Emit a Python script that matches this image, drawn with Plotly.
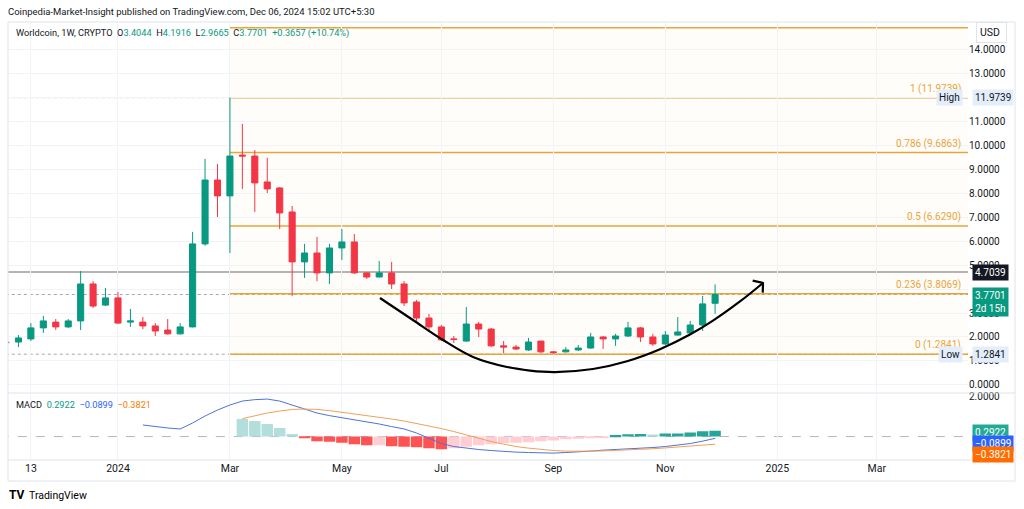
import pandas as pd
import plotly.graph_objects as go

# ---------------- data ----------------
weeks = pd.date_range("2023-10-30", "2024-12-02", freq="7D")
opens = [1.76, 1.79, 1.92, 2.38, 2.62, 2.42, 2.67, 4.21, 3.33, 3.63, 2.62, 2.62, 2.46, 2.29, 2.13,
         2.42, 5.88, 8.54, 7.88, 9.58, 9.54, 8.46, 8.21, 7.21, 5.13, 5.50, 4.67, 5.71, 5.96, 4.67,
         4.50, 4.67, 4.21, 3.46, 2.79, 2.42, 1.92, 1.83, 2.54, 2.33, 1.63, 1.58, 1.46, 1.83, 1.38,
         1.38, 1.46, 1.54, 2.00, 1.92, 2.04, 2.38, 2.00, 1.71, 2.08, 2.17, 2.50, 3.4044]
highs = [1.80, 2.08, 2.58, 2.88, 2.75, 2.75, 4.75, 4.33, 4.04, 3.88, 3.17, 2.83, 2.58, 2.75, 2.58,
         6.38, 9.42, 9.21, 11.9739, 10.88, 9.79, 9.46, 8.25, 7.46, 5.88, 6.17, 5.88, 6.50, 6.29, 4.70,
         5.17, 5.13, 4.33, 3.54, 2.96, 2.50, 2.04, 3.25, 2.63, 2.38, 1.83, 1.67, 1.96, 1.83, 1.42,
         1.58, 1.67, 2.17, 2.04, 2.13, 2.63, 2.42, 2.13, 2.25, 2.83, 2.67, 3.71, 4.1916]
lows = [1.72, 1.58, 1.83, 2.17, 2.29, 2.38, 2.29, 3.21, 3.29, 2.55, 2.42, 2.33, 2.04, 2.10, 2.10,
        2.40, 5.80, 7.00, 5.50, 8.17, 7.21, 8.00, 6.50, 3.71, 4.46, 4.33, 4.21, 5.21, 4.63, 4.42,
        4.48, 4.00, 3.29, 2.67, 2.29, 1.83, 1.75, 1.80, 2.00, 1.58, 1.33, 1.46, 1.42, 1.33, 1.2841,
        1.36, 1.42, 1.50, 1.50, 1.63, 2.00, 1.79, 1.63, 1.67, 2.06, 2.13, 2.25, 2.9665]
closes = [1.78, 1.96, 2.38, 2.67, 2.42, 2.67, 4.21, 3.29, 3.63, 2.58, 2.67, 2.46, 2.25, 2.13, 2.42,
          5.88, 8.54, 7.88, 9.54, 9.54, 8.42, 8.17, 7.17, 5.13, 5.50, 4.67, 5.71, 5.96, 4.67, 4.50,
          4.67, 4.21, 3.42, 2.79, 2.42, 1.88, 1.90, 2.54, 2.33, 1.63, 1.58, 1.50, 1.79, 1.38, 1.35,
          1.46, 1.54, 2.00, 1.92, 2.04, 2.38, 2.00, 1.71, 2.08, 2.21, 2.50, 3.38, 3.7701]

macd_start = "2024-01-15"
macd_line = [0.58, 0.50, 0.43, 0.38, 0.68, 1.03, 1.33, 1.58, 1.78, 1.85, 1.88, 1.78, 1.58, 1.38, 1.18,
             1.05, 0.95, 0.85, 0.75, 0.63, 0.50, 0.38, 0.18, -0.08, -0.35, -0.50, -0.58, -0.65, -0.70,
             -0.75, -0.78, -0.80, -0.83, -0.83, -0.80, -0.78, -0.73, -0.68, -0.65, -0.63, -0.58, -0.55,
             -0.50, -0.43, -0.35, -0.23, -0.0899]
signal_start = "2024-03-11"
signal_line = [0.90, 1.05, 1.18, 1.28, 1.36, 1.38, 1.36, 1.30, 1.22, 1.15, 1.07, 0.98, 0.88, 0.78, 0.66,
               0.53, 0.40, 0.25, 0.08, -0.10, -0.25, -0.38, -0.50, -0.58, -0.65, -0.70, -0.73, -0.74,
               -0.73, -0.72, -0.70, -0.67, -0.64, -0.61, -0.57, -0.53, -0.48, -0.43, -0.3821]
histogram = [0.88, 0.78, 0.63, 0.43, 0.13, -0.05, -0.23, -0.26, -0.31, -0.38, -0.43, -0.43, -0.48,
             -0.51, -0.54, -0.59, -0.64, -0.59, -0.51, -0.43, -0.38, -0.34, -0.31, -0.28, -0.23, -0.20,
             -0.14, -0.11, -0.08, -0.04, 0.08, 0.11, 0.13, 0.10, 0.15, 0.16, 0.20, 0.27, 0.2922]

fib_levels = [0, 0.236, 0.5, 0.786, 1, 1.272]
fib_prices = [1.2841, 3.8069, 6.6290, 9.6863, 11.9739, 14.8815]
fib_start = "2024-03-04"
high_price = 11.9739
low_price = 1.2841
last_price = 3.7701
ref_price = 4.7039

tick_dates = ["2023-11-13", "2024-01-01", "2024-03-04", "2024-05-06", "2024-07-01",
              "2024-09-02", "2024-11-04", "2025-01-06", "2025-03-03"]
tick_text = ["13", "2024", "Mar", "May", "Jul", "Sep", "Nov", "2025", "Mar"]
price_ticks = list(range(0, 15))
hidden_price_ticks = [4, 12]   # covered by the price tags in the reference

# hand-drawn cup arc (drawing: weeks since 2024-01-01, price)
arc_weeks = [21.06, 23.71, 26.13, 28.54, 31.27, 33.12, 35.13, 38.18, 40.92, 43.57, 45.98,
             47.83, 50.0, 51.85]
arc_prices = [3.625, 2.71, 1.875, 1.17, 0.75, 0.60, 0.54, 0.667, 0.99, 1.49, 2.10,
              2.68, 3.48, 4.25]
arrow_barb_weeks = [51.02, 51.85, 51.83]
arrow_barb_prices = [4.35, 4.25, 3.85]

# ---------------- helpers ----------------
origin = pd.Timestamp("2024-01-01")
def wk(d):
    return (pd.Timestamp(d) - origin).days / 7.0

xs = [wk(d) for d in weeks]
macd_x = xs[xs.index(wk(macd_start)):]
sig_x = xs[xs.index(wk(signal_start)):]
hist_x = sig_x

GREEN = "#089981"
RED = "#f23645"
FIB = "#eaa53a"
TXT = "#131722"

hist_colors = []
for k, h in enumerate(histogram):
    prev = histogram[k - 1] if k > 0 else h + 1
    if h >= 0:
        hist_colors.append("#26a69a" if h > prev else "#b2dfdb")
    else:
        hist_colors.append("#ff5252" if h < prev else "#ffcdd2")

X0, X1 = -8.84, 68.33
fig = go.Figure()

fig.add_trace(go.Candlestick(
    x=xs, open=opens, high=highs, low=lows, close=closes,
    increasing=dict(line=dict(color=GREEN, width=1), fillcolor=GREEN),
    decreasing=dict(line=dict(color=RED, width=1), fillcolor=RED),
    whiskerwidth=0, hoverinfo="skip", showlegend=False, xaxis="x", yaxis="y"))

fig.add_trace(go.Scatter(x=arc_weeks, y=arc_prices, mode="lines",
                         line=dict(color="#000000", width=2.2, shape="spline", smoothing=1.0),
                         hoverinfo="skip", showlegend=False, xaxis="x", yaxis="y"))
fig.add_trace(go.Scatter(x=arrow_barb_weeks, y=arrow_barb_prices, mode="lines",
                         line=dict(color="#000000", width=2.2),
                         hoverinfo="skip", showlegend=False, xaxis="x", yaxis="y"))

fig.add_trace(go.Bar(x=hist_x, y=histogram, marker=dict(color=hist_colors, line=dict(width=0)),
                     hoverinfo="skip", showlegend=False, xaxis="x2", yaxis="y2"))
fig.add_trace(go.Scatter(x=macd_x, y=macd_line, mode="lines", line=dict(color="#4f72d8", width=1),
                         hoverinfo="skip", showlegend=False, xaxis="x2", yaxis="y2"))
fig.add_trace(go.Scatter(x=sig_x, y=signal_line, mode="lines", line=dict(color="#f0a05a", width=1),
                         hoverinfo="skip", showlegend=False, xaxis="x2", yaxis="y2"))

shapes = []
fx = wk(fib_start)
shapes.append(dict(type="rect", xref="x", yref="y", x0=fx, x1=X1 + 5, y0=fib_prices[0], y1=fib_prices[-1],
                   fillcolor="rgba(255,152,0,0.025)", line=dict(width=0), layer="below"))
for p in [high_price, low_price, last_price]:
    shapes.append(dict(type="line", xref="x", yref="y", x0=X0 - 5, x1=X1 + 5, y0=p, y1=p,
                       line=dict(color="#a3a6af", width=1, dash="dot"), layer="below"))
shapes.append(dict(type="line", xref="x", yref="y", x0=X0 - 5, x1=X1 + 5, y0=ref_price, y1=ref_price,
                   line=dict(color="#9b9b9b", width=1.5), layer="below"))
for p in fib_prices:
    shapes.append(dict(type="line", xref="x", yref="y", x0=fx, x1=X1 + 5, y0=p, y1=p,
                       line=dict(color=FIB, width=1.5), layer="below"))
shapes.append(dict(type="line", xref="x2", yref="y2", x0=X0 - 5, x1=X1 + 5, y0=0, y1=0,
                   line=dict(color="#b2b5be", width=1, dash="dash"), layer="below"))
# frame and pane separators
shapes.append(dict(type="rect", xref="paper", yref="paper", x0=0, x1=1.049, y0=-0.048, y1=1.0,
                   line=dict(color="#e0e3eb", width=1), fillcolor="rgba(0,0,0,0)"))
shapes.append(dict(type="line", xref="paper", yref="paper", x0=0, x1=1.049, y0=0.153, y1=0.153,
                   line=dict(color="#e0e3eb", width=1)))
shapes.append(dict(type="line", xref="paper", yref="paper", x0=0, x1=1.049, y0=0.0, y1=0.0,
                   line=dict(color="#e0e3eb", width=1)))

ann = []
FONT = "Roboto"
def a(text, x, y, xref="paper", yref="paper", xanchor="left", yanchor="middle", size=10,
      color=TXT, bg=None, yshift=0, xshift=0, pad=1, border=None):
    d = dict(text=text, x=x, y=y, xref=xref, yref=yref, xanchor=xanchor, yanchor=yanchor,
             showarrow=False, font=dict(family=FONT, size=size, color=color),
             yshift=yshift, xshift=xshift, borderpad=pad)
    if bg:
        d["bgcolor"] = bg
    if border:
        d["bordercolor"] = border
        d["borderwidth"] = 1
    ann.append(d)

a("Coinpedia-Market-Insight published on TradingView.com, Dec 06, 2024 15:02 UTC+5:30",
  -0.002, 1.023, size=9.5)
g = GREEN
a(f"Worldcoin, 1W, CRYPTO  O<span style='color:{g}'>3.4044</span>  H<span style='color:{g}'>4.1916</span>"
  f"  L<span style='color:{g}'>2.9665</span>  C<span style='color:{g}'>3.7701</span>"
  f"  <span style='color:{g}'>+0.3657 (+10.74%)</span>", 0.006, 0.975, size=9.2)
a("MACD  <span style='color:#089981'>0.2922</span>  <span style='color:#2962ff'>−0.0899</span>"
  "  <span style='color:#f57c00'>−0.3821</span>", 0.006, 0.1256, size=9.2)
a("<b>TV</b>", -0.001, -0.080, size=12, color="#000000")
a("TradingView", 0.020, -0.080, size=10.5, color="#000000")
a("USD ", 1.008, 0.975, size=10.5, bg="#ffffff", border="#e0e3eb", pad=3)

for lvl, p in zip(fib_levels, fib_prices):
    if lvl == 1.272:
        continue
    a(f"{lvl} ({p:.4f})", 0.9945, p, yref="y", xanchor="right", yanchor="bottom", size=10,
      color=FIB, yshift=1)

# right axis tags
a("High", 0.9945, high_price, yref="y", xanchor="right", size=10, bg="#e3edfb", pad=2)
a(f"{high_price:.4f}", 1.004, high_price, yref="y", size=10, bg="#e3edfb", pad=2)
a(f"{ref_price:.4f}", 1.004, ref_price, yref="y", size=10, color="#ffffff", bg="#131722", pad=2)
a(f"{last_price:.4f}<br>2d 15h", 1.004, last_price, yref="y", yanchor="top", yshift=8, size=10,
  color="#ffffff", bg=GREEN, pad=2)
a("Low", 0.9945, low_price, yref="y", xanchor="right", size=10, bg="#e3edfb", pad=2)
a(f"{low_price:.4f}", 1.004, low_price, yref="y", size=10, bg="#e3edfb", pad=2)
a("0.2922", 1.004, 0.0639, size=10, color="#ffffff", bg="#22ab94", pad=2)
a("−0.0899", 1.004, 0.0388, size=10, color="#ffffff", bg="#2962ff", pad=2)
a("−0.3821", 1.004, 0.0120, size=10, color="#ffffff", bg="#ff6d00", pad=2)

tickvals_x = [wk(d) for d in tick_dates]
fig.update_layout(
    width=1024, height=509,
    margin=dict(l=8, r=56, t=22, b=49),
    paper_bgcolor="#ffffff", plot_bgcolor="#ffffff",
    font=dict(family=FONT, size=10, color=TXT),
    showlegend=False, bargap=0.08, hovermode=False,
    shapes=shapes, annotations=ann,
    xaxis=dict(domain=[0, 1], range=[X0, X1], anchor="y", tickvals=tickvals_x, showticklabels=False,
               showgrid=True, gridcolor="#f2f3f6", zeroline=False, showline=False,
               rangeslider=dict(visible=False)),
    yaxis=dict(domain=[0.153, 1], range=[-0.333, 15.125], side="right", anchor="x",
               tickvals=price_ticks,
               ticktext=["" if v in hidden_price_ticks else f"{v:.4f}" for v in price_ticks],
               showgrid=True, gridcolor="#f2f3f6", zeroline=False, tickfont=dict(size=10, color=TXT)),
    xaxis2=dict(domain=[0, 1], range=[X0, X1], anchor="y2", matches="x", tickvals=tickvals_x,
                ticktext=tick_text, showgrid=True, gridcolor="#f2f3f6", zeroline=False,
                tickfont=dict(size=10.5, color=TXT)),
    yaxis2=dict(domain=[0, 0.148], range=[-1.175, 2.075], side="right", anchor="x2",
                tickvals=[2], ticktext=["2.0000"], showgrid=False, zeroline=False,
                tickfont=dict(size=10, color=TXT)),
)

fig.write_html("out.html", config={"displayModeBar": False},
               post_script="document.body.style.margin='0';")
